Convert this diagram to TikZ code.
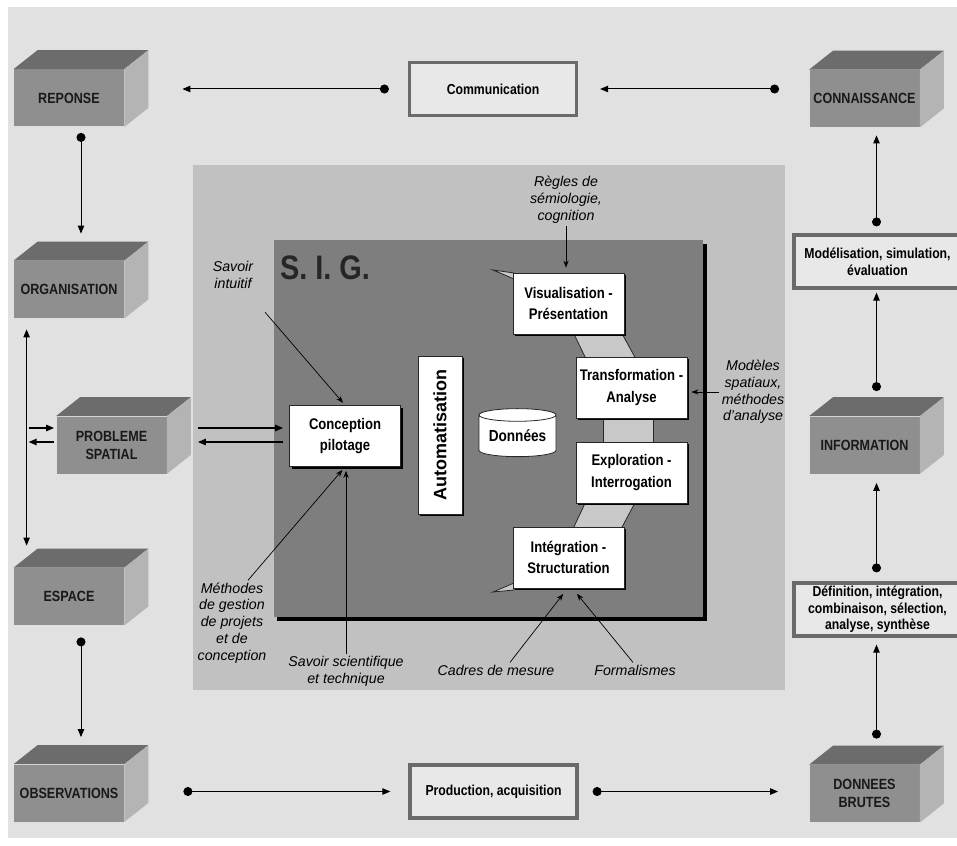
\documentclass[tikz,border=0pt]{standalone}
\usepackage{fontspec}
\setmainfont{Liberation Sans}
\newfontfamily\narrowfont{Liberation Sans}[FakeStretch=0.85]
\usetikzlibrary{arrows.meta,calc,shadows,shapes.geometric}

\definecolor{bggray}{HTML}{E1E1E1}
\definecolor{panelgray}{HTML}{C1C1C1}
\definecolor{siggray}{HTML}{7E7E7E}
\definecolor{cubefront}{HTML}{8F8F8F}
\definecolor{cubetop}{HTML}{6C6C6C}
\definecolor{cubeside}{HTML}{B4B4B4}
\definecolor{bandgray}{HTML}{C8C8C8}
\definecolor{framegray}{HTML}{6A6A6A}

\tikzset{
  cubebox/.style={fill=cubefront, minimum width=55pt, minimum height=28.5pt, inner sep=0pt, align=center, text=black!90, font=\narrowfont\bfseries\fontsize{7.4}{9}\selectfont},
  textbox/.style={draw=framegray, line width=1.6pt, fill=bggray!75!white, minimum width=83.5pt, minimum height=26.5pt, inner sep=0pt, align=center, font=\narrowfont\bfseries\fontsize{7.2}{8.3}\selectfont},
  sigbox/.style={draw=black!85, line width=0.4pt, fill=white, minimum width=55.5pt, minimum height=30.5pt, inner sep=0pt, align=center, font=\narrowfont\bfseries\fontsize{7.7}{10.8}\selectfont, drop shadow={shadow xshift=1.2pt, shadow yshift=-1.2pt, fill=black, opacity=1}},
  note/.style={align=center, inner sep=1pt, font=\itshape\fontsize{7.1}{8.4}\selectfont},
  flow/.style={line width=0.5pt, {Circle[length=4.5pt]}-{Triangle[length=4pt,width=3.2pt]}},
  twoway/.style={line width=0.5pt, {Triangle[length=4pt,width=3.2pt]}-{Triangle[length=4pt,width=3.2pt]}},
  push/.style={line width=0.7pt, -{Triangle[length=4pt,width=3.2pt]}},
  hint/.style={line width=0.35pt, -{Stealth[length=3.5pt,width=2.6pt]}},
  band/.style={fill=bandgray, draw=black!85, line width=0.4pt}
}

\def\cuboid(#1)(#2)#3{
  \node[cubebox] (#1) at (#2) {#3};
  \fill[cubetop] (#1.north west) -- ++(24,-19) -- ($(#1.north east)+(24,-19)$) -- (#1.north east) -- cycle;
  \fill[cubeside] (#1.north east) -- ($(#1.north east)+(24,-19)$) -- ($(#1.south east)+(24,-19)$) -- (#1.south east) -- cycle;
  \coordinate (#1-t) at ($(#1.north)+(12,-19)$);
  \coordinate (#1-b) at ($(#1.south)+(12,0)$);
  \coordinate (#1-r) at ($(#1.east)+(24,-9.5)$);
}

\begin{document}
\begin{tikzpicture}[x=0.5pt,y=-0.5pt]
  %%%%% START %%%%%
  \useasboundingbox (0,0) rectangle (957,845);
  \fill[white] (0,0) rectangle (957,845);
  \fill[bggray] (8,7) rectangle (957,838);

  % S.I.G.
  \fill[panelgray] (193,165) rectangle (785,690);
  \fill[black] (277,244) rectangle (707,621);
  \fill[siggray] (274,240) rectangle (703,617);
  \node[text=black!85, font=\narrowfont\bfseries\fontsize{17}{18}\selectfont] (sig) at (325,268) {S. I. G.};

  \filldraw[band] (572,330) -- (620,330) -- (637,361) -- (587,361) -- cycle;
  \filldraw[band] (603,414) rectangle (653,446);
  \filldraw[band] (587,499) -- (637,499) -- (620,531) -- (572,531) -- cycle;
  \filldraw[band] (493,270) -- (514,273) -- (514,279) -- cycle;
  \filldraw[band] (493,592) -- (514,583) -- (514,590) -- cycle;

  \node[sigbox] (conception) at (345,436) {Conception\\pilotage};
  \node[sigbox, rotate=90, minimum width=79pt, minimum height=22pt, font=\bfseries\fontsize{9}{10}\selectfont] (auto) at (440,435) {Automatisation};
  \node[cylinder, shape border rotate=90, aspect=0.22, draw=black!85, fill=white, minimum width=38.5pt, minimum height=24pt, inner sep=0pt, font=\narrowfont\bfseries\fontsize{8}{10}\selectfont] (donnees) at (517.5,436) {Données};
  \node[sigbox] (visu) at (568.5,303.5) {Visualisation -\\Présentation};
  \node[sigbox] (transf) at (631.5,387.5) {Transformation -\\Analyse};
  \node[sigbox] (explo) at (631.5,472.5) {Exploration -\\Interrogation};
  \node[sigbox] (integ) at (568.5,557.5) {Intégration -\\Structuration};

  % cadre exterieur
  \node[textbox] (comm) at (493,89) {Communication};
  \node[textbox] (prod) at (493.5,791.5) {Production, acquisition};
  \node[textbox] (model) at (877.5,261.5) {Modélisation, simulation,\\évaluation};
  \node[textbox] (defin) at (877.5,609.5) {Définition, intégration,\\combinaison, sélection,\\analyse, synthèse};

  \cuboid(reponse)(69,98){REPONSE}
  \cuboid(organisation)(69,289.5){ORGANISATION}
  \cuboid(probleme)(111.5,445){PROBLEME\\SPATIAL}
  \cuboid(espace)(69,596.5){ESPACE}
  \cuboid(observations)(69,793){OBSERVATIONS}
  \cuboid(connaissance)(864.5,98.5){CONNAISSANCE}
  \cuboid(information)(864.5,445){INFORMATION}
  \cuboid(brutes)(864.5,793.5){DONNEES\\BRUTES}

  \draw[flow, shorten <=9.5pt, shorten >=17pt] (comm.west) -- (comm.west -| reponse-r);
  \draw[flow, shorten <=15pt, shorten >=11pt] (connaissance.west |- comm.east) -- (comm.east);
  \draw[flow, shorten <=3pt, shorten >=4pt] (reponse-b) -- (organisation-t);
  \coordinate (bus) at ($(organisation.south west)+(13,0)$);
  \draw[twoway, shorten <=5.5pt, shorten >=11pt] (bus) -- (bus |- espace.north);
  \draw[push] ($(bus |- conception.west)+(2,-8)$) -- ($(probleme.west |- conception.west)+(-2,-8)$);
  \draw[push] ($(probleme.west |- conception.west)+(-2,6)$) -- ($(bus |- conception.west)+(2,6)$);
  \draw[push] ($(probleme-r |- conception.west)+(7,-8)$) -- ($(conception.west)+(-6,-8)$);
  \draw[push] ($(conception.west)+(-6,6)$) -- ($(probleme-r |- conception.west)+(7,6)$);
  \draw[flow, shorten <=6pt, shorten >=4pt] (espace-b) -- (observations-t);
  \draw[flow, shorten <=29.5pt, shorten >=9pt] (observations.east |- prod.west) -- (prod.west);
  \draw[flow, shorten <=7pt, shorten >=15.5pt] (prod.east) -- (prod.east -| brutes.west);
  \draw[flow, shorten <=3.5pt, shorten >=3.5pt] (brutes-t) -- (brutes-t |- defin.south);
  \draw[flow, shorten <=4.5pt, shorten >=4.5pt] (defin.north -| information-b) -- (information-b);
  \draw[flow, shorten <=3pt, shorten >=1.5pt] (information-t) -- (information-t |- model.south);
  \draw[flow, shorten <=3.5pt, shorten >=4pt] (model.north -| connaissance-b) -- (connaissance-b);

  % apports
  \node[note] (savint) at (233,275) {Savoir\\intuitif};
  \node[note] (regles) at (566,200) {Règles de\\sémiologie,\\cognition};
  \node[note] (modeles) at (753,392) {Modèles\\spatiaux,\\méthodes\\d'analyse};
  \node[note] (methodes) at (232,623) {Méthodes\\de gestion\\de projets\\et de\\conception};
  \node[note] (savsci) at (346,671) {Savoir scientifique\\et technique};
  \node[note] (cadres) at (496,670) {Cadres de mesure};
  \node[note] (formal) at (635,670) {Formalismes};

  \draw[hint, shorten <=14pt, shorten >=1.5pt] (savint) -- (conception.north);
  \draw[hint, shorten >=2pt] ($(methodes.north)+(16,0)$) -- (conception.south);
  \draw[hint, shorten >=2pt] (savsci.north) -- (savsci.north |- conception.south);
  \draw[hint, shorten >=3.5pt] ($(cadres.north)+(14,0)$) -- ($(integ.south)+(-1,0)$);
  \draw[hint, shorten >=3.5pt] ($(formal.north)+(-2,0)$) -- ($(integ.south)+(4,0)$);
  \draw[hint, shorten >=2.5pt] (regles.south) -- (regles.south |- visu.north);
  \draw[hint, shorten >=2pt] (modeles.west) -- (modeles.west -| transf.east);

  %%%%% END %%%%%
\end{tikzpicture}
\end{document}
